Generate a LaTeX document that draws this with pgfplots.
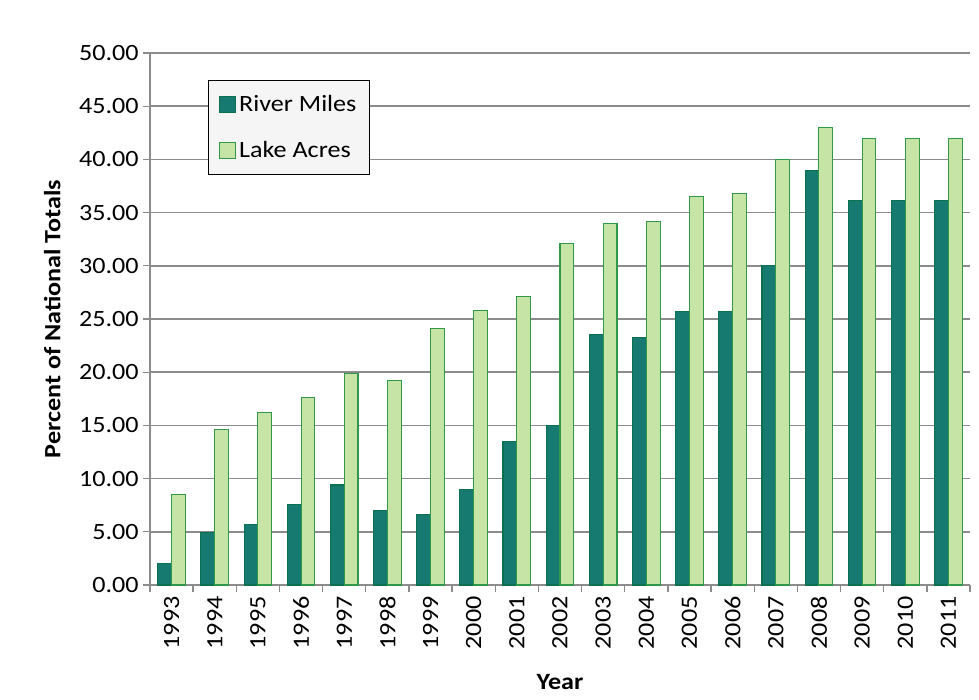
\documentclass[border=0pt]{standalone}
\usepackage{fontspec}
\setmainfont{Carlito}[FakeStretch=1.12]
\usepackage{pgfplots}
\usepackage{pgfplotstable}
\pgfplotsset{compat=1.18}
\definecolor{riverfill}{RGB}{23,122,112}
\definecolor{riverdraw}{RGB}{12,112,78}
\definecolor{lakefill}{RGB}{198,228,166}
\definecolor{lakedraw}{RGB}{48,152,72}
\definecolor{gridgray}{RGB}{140,140,140}
\pgfplotstableread{
x year river lake
0 1993 2.0 8.5
1 1994 4.9 14.6
2 1995 5.7 16.2
3 1996 7.6 17.6
4 1997 9.4 19.9
5 1998 7.0 19.2
6 1999 6.6 24.1
7 2000 9.0 25.8
8 2001 13.5 27.1
9 2002 15.0 32.1
10 2003 23.5 34.0
11 2004 23.3 34.2
12 2005 25.7 36.5
13 2006 25.7 36.8
14 2007 30.0 40.0
15 2008 39.0 43.0
16 2009 36.1 42.0
17 2010 36.1 42.0
18 2011 36.1 42.0
}\datatable
\begin{document}
\begin{tikzpicture}
\begin{axis}[
  at={(0,0)}, anchor=south west,
  scale only axis, width=615pt, height=399pt,
  xmin=-0.5, xmax=18.5, ymin=0, ymax=50,
  ybar=0pt, bar width=0.32,
  axis lines*=left,
  axis line style={draw=gridgray, line width=1pt},
  ytick={0,5,...,50},
  ymajorgrids, grid style={draw=gridgray, line width=1.1pt},
  /pgf/number format/fixed, /pgf/number format/fixed zerofill, /pgf/number format/precision=2,
  /pgf/number format/assume math mode=true,
  y tick label style={font=\fontsize{17.5pt}{20pt}\selectfont},
  xtick={0,...,18},
  xticklabels={1993,1994,1995,1996,1997,1998,1999,2000,2001,2002,2003,2004,2005,2006,2007,2008,2009,2010,2011},
  x tick label style={rotate=90, anchor=east, font=\fontsize{17.5pt}{20pt}\selectfont},
  major x tick style={draw=none},
  minor xtick={-0.5,0.5,...,18.5},
  minor x tick style={draw=gridgray, line width=1pt},
  major y tick style={draw=gridgray, line width=1pt},
  tick align=outside,
  major tick length=5pt, minor tick length=5pt,
  xlabel={\textbf{Year}},
  ylabel={\textbf{Percent of National Totals}},
  label style={font=\fontsize{17.5pt}{20pt}\selectfont},
  xlabel style={yshift=-12pt},
  ylabel style={yshift=7pt},
  legend style={at={(0.071,0.949)}, anchor=north west, draw=black, line width=0.8pt,
    fill=gray!8, font=\fontsize{17.5pt}{20pt}\selectfont, row sep=17pt,
    inner xsep=8pt, inner ysep=9pt},
  legend cell align=left,
  legend image code/.code={\draw[#1, line width=0.8pt] (0pt,-6pt) rectangle (12pt,6pt);},
]
\addplot[fill=riverfill, draw=riverdraw, line width=0.8pt] table[x=x, y=river] {\datatable};
\addplot[fill=lakefill, draw=lakedraw, line width=0.8pt] table[x=x, y=lake] {\datatable};
\legend{River Miles, Lake Acres}
\end{axis}
\path[use as bounding box] (-112.5pt,-86.25pt) rectangle (621.75pt,438.75pt);
\end{tikzpicture}
\end{document}
